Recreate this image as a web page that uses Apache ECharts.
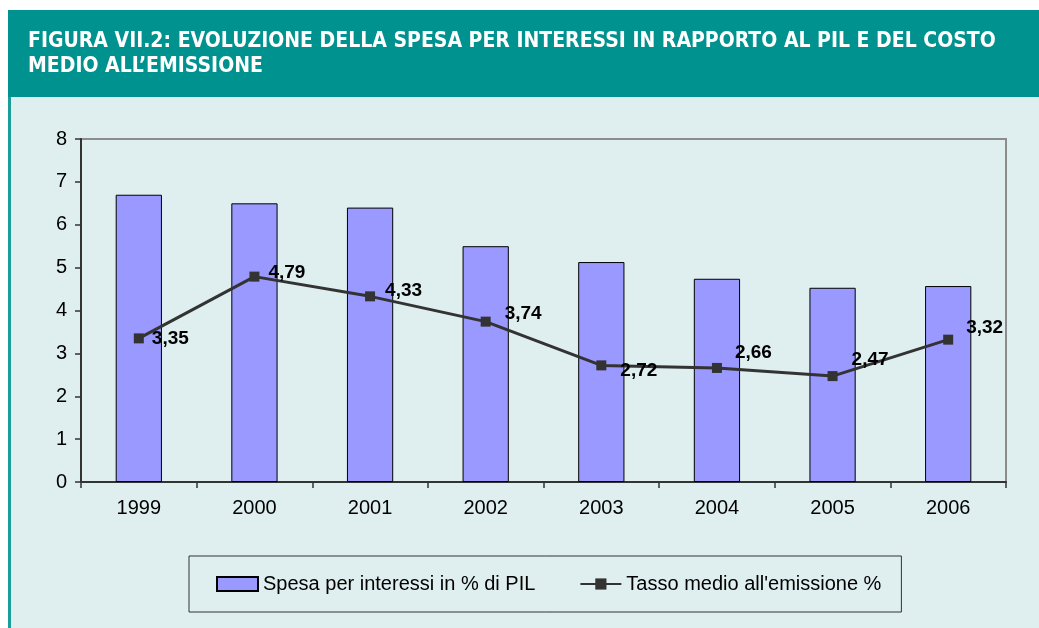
<!DOCTYPE html>
<html>
<head>
<meta charset="utf-8">
<script src="https://cdn.jsdelivr.net/npm/echarts@6/dist/echarts.min.js"></script>
<style>
  html, body { margin: 0; padding: 0; background: #fff; }
  #chart { width: 1039px; height: 628px; }
</style>
</head>
<body>
<div id="chart"></div>
<script>
  // dati
  var anni = ["1999", "2000", "2001", "2002", "2003", "2004", "2005", "2006"];
  var spesaPil = [6.7, 6.5, 6.4, 5.5, 5.13, 4.74, 4.53, 4.57];
  var tassoMedio = [3.35, 4.79, 4.33, 3.74, 2.72, 2.66, 2.47, 3.32];
  // spostamento delle etichette rispetto al punto (come nel grafico originale)
  var offsetEtichette = [[3, 0], [4, -4], [5, -6], [9, -8], [9, 5], [8, -15], [9, -16], [8, -12]];

  var chart = echarts.init(document.getElementById("chart"));

  var puntiLinea = tassoMedio.map(function (v, i) {
    return {
      value: v,
      label: { offset: offsetEtichette[i] }
    };
  });

  chart.setOption({
    backgroundColor: "#fff",
    animation: false,
    textStyle: { fontFamily: "Liberation Sans, Arial, sans-serif" },
    graphic: [
      // sfondo chiaro del riquadro
      { type: "rect", shape: { x: 8, y: 96, width: 1031, height: 532 }, style: { fill: "#dfeeee" }, z: -10 },
      // bordo sinistro verde acqua
      { type: "rect", shape: { x: 8, y: 96, width: 3, height: 532 }, style: { fill: "#1a9e9a" }, z: -9 },
      // fascia del titolo
      { type: "rect", shape: { x: 8, y: 10, width: 1031, height: 87 }, style: { fill: "#00928e" }, z: -9 },
      {
        type: "text", left: 28, top: 29, z: 10,
        style: {
          text: "FIGURA VII.2: EVOLUZIONE DELLA SPESA PER INTERESSI IN RAPPORTO AL PIL E DEL COSTO\nMEDIO ALL’EMISSIONE",
          fill: "#ffffff",
          font: "bold 21px 'DejaVu Sans Condensed', 'DejaVu Sans', sans-serif",
          lineHeight: 25
        }
      }
    ],
    grid: {
      left: 81, right: 33, top: 139, bottom: 146,
      show: true, borderColor: "#8c8c8c", borderWidth: 2, backgroundColor: "transparent"
    },
    legend: {
      left: 189, top: 556,
      padding: [18, 20, 18, 27],
      borderColor: "#333", borderWidth: 1,
      itemWidth: 41, itemHeight: 14, itemGap: 44,
      textStyle: { fontSize: 20, color: "#000", fontFamily: "Liberation Sans, Arial, sans-serif" },
      data: [
        { name: "Spesa per interessi in % di PIL", icon: "rect" },
        { name: "Tasso medio all'emissione %" }
      ]
    },
    xAxis: {
      type: "category",
      data: anni,
      boundaryGap: true,
      axisLine: { lineStyle: { color: "#333", width: 2 } },
      axisTick: { show: true, alignWithLabel: false, length: 6, lineStyle: { color: "#333", width: 1.5 } },
      axisLabel: { color: "#000", fontSize: 20, margin: 16 },
      splitLine: { show: false }
    },
    yAxis: {
      type: "value",
      min: 0, max: 8, interval: 1,
      axisLine: { show: true, lineStyle: { color: "#333", width: 2 } },
      axisTick: { show: true, length: 6, lineStyle: { color: "#333", width: 1.5 } },
      axisLabel: { color: "#000", fontSize: 20, margin: 14 },
      splitLine: { show: false }
    },
    series: [
      {
        name: "Spesa per interessi in % di PIL",
        type: "bar",
        data: spesaPil,
        barWidth: "40%",
        itemStyle: { color: "#9999ff", borderColor: "#000", borderWidth: 1 }
      },
      {
        name: "Tasso medio all'emissione %",
        type: "line",
        data: puntiLinea,
        symbol: "rect",
        symbolSize: 10,
        lineStyle: { color: "#333", width: 3 },
        itemStyle: { color: "#333" },
        label: {
          show: true,
          position: "right",
          color: "#000",
          fontSize: 19,
          fontWeight: "bold",
          formatter: function (p) { return p.value.toFixed(2).replace(".", ","); }
        },
        z: 5
      }
    ]
  });
</script>
</body>
</html>
